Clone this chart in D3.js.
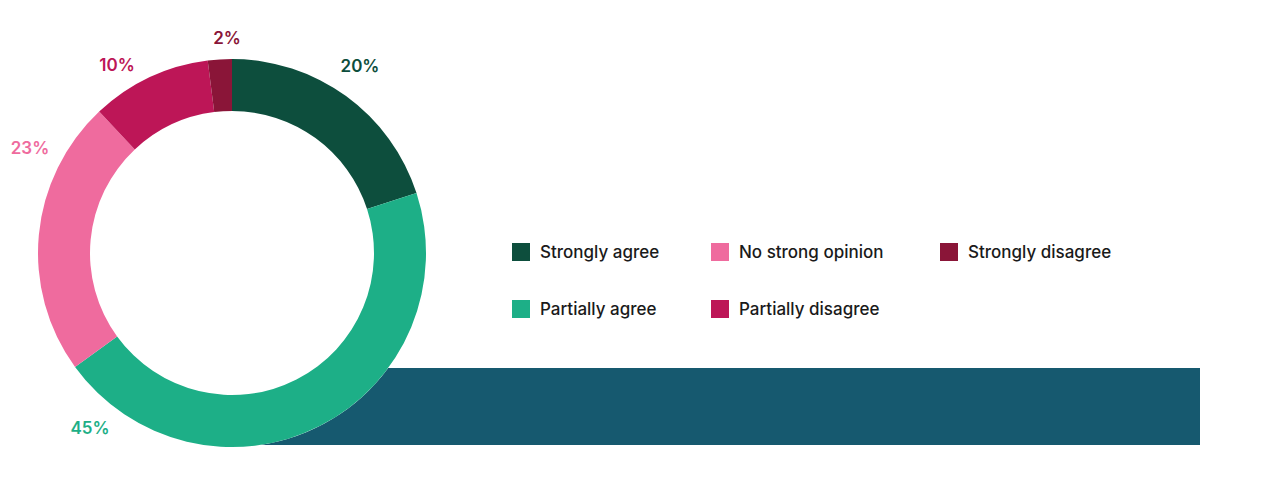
<!DOCTYPE html>
<html><head><meta charset="utf-8">
<script src="https://cdn.jsdelivr.net/npm/d3@7"></script>
<style>body{margin:0;background:#fff}text{font-family:Inter,"Noto Sans",sans-serif}</style>
</head><body>
<svg id="viz" width="1268" height="500"></svg>
<script>
// answers, clockwise from the top
let categories = ["Strongly agree","Partially agree","No strong opinion","Partially disagree","Strongly disagree"];
let values = [20,45,23,10,2];
let colors = ["#0d4e3d","#1daf87","#ef6b9e","#bd1657","#8a1538"];
// label anchor points
let labelPos = [[360,66],[90,428],[30,148],[117,65],[227,38]];
let legendOrder = [0,2,4,1,3];

let svg = d3.select('#viz');

// teal band behind the donut
svg.append('rect').attr('x',250).attr('y',368).attr('width',950).attr('height',77).attr('fill','#16596f');

let cx=232, cy=253;
let pie = d3.pie().sort(null).value(d=>d);
let arc = d3.arc().innerRadius(142).outerRadius(194);
let g = svg.append('g').attr('transform','translate('+cx+','+cy+')');
g.append('circle').attr('r',194).attr('fill','#fff');
g.selectAll('path').data(pie(values)).enter().append('path')
 .attr('d',arc).attr('fill',(d,i)=>colors[i]);

svg.selectAll('.lbl').data(values).enter().append('text')
 .attr('x',(d,i)=>labelPos[i][0]).attr('y',(d,i)=>labelPos[i][1])
 .attr('dy','0.35em').attr('text-anchor','middle')
 .attr('font-size',17).attr('font-weight',600)
 .attr('fill',(d,i)=>colors[i]).text(d=>d+'%');

let colX=[512,711,940], rowY=[252,309];
let lg = svg.selectAll('.lg').data(legendOrder).enter().append('g')
 .attr('transform',(d,k)=>'translate('+colX[k%3]+','+rowY[Math.floor(k/3)]+')');
lg.append('rect').attr('x',0).attr('y',-9).attr('width',18).attr('height',18).attr('fill',d=>colors[d]);
lg.append('text').attr('x',28).attr('dy','0.35em').attr('font-size',17).attr('font-weight',500)
 .attr('fill','#1a1a1a').text(d=>categories[d]);
</script>
</body></html>
